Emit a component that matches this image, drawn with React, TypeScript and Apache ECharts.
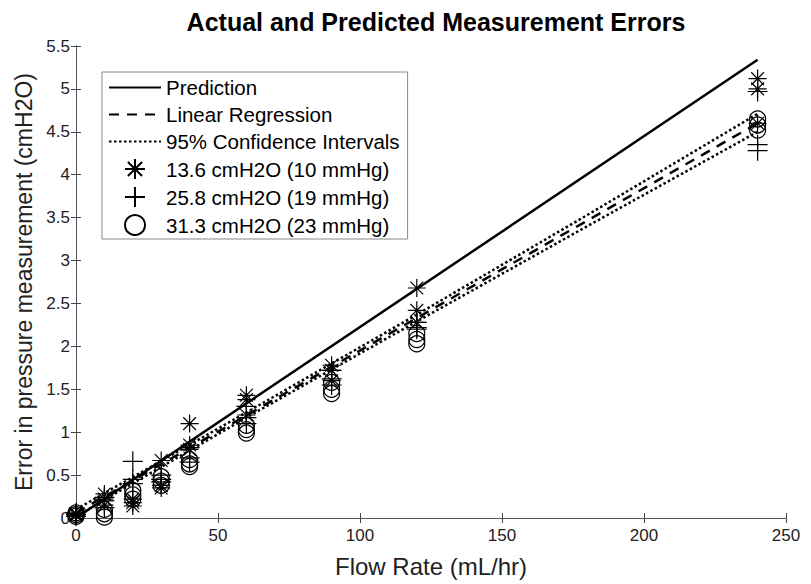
import React, { useEffect, useRef } from "react";
import * as echarts from "echarts";

// Flow rates (mL/hr)
const flow = [0, 10, 20, 30, 40, 60, 90, 120, 240];

// 13.6 cmH2O (10 mmHg) replicates – asterisks
const ast1 = [0.05, 0.28, 0.18, 0.67, 1.1, 1.43, 1.78, 2.68, 5.12];
const ast2 = [0.05, 0.22, 0.22, 0.38, 0.85, 1.38, 1.72, 2.42, 5.0];
const ast3 = [0.03, 0.15, 0.14, 0.35, 0.8, 1.2, 1.6, 2.28, 4.6];

// 25.8 cmH2O (19 mmHg) replicates – plus
const plus1 = [0.06, 0.24, 0.66, 0.5, 0.82, 1.3, 1.72, 2.28, 4.97];
const plus2 = [0.04, 0.2, 0.45, 0.45, 0.7, 1.17, 1.62, 2.22, 4.35];
const plus3 = [0.02, 0.12, 0.4, 0.42, 0.65, 1.1, 1.55, 2.2, 4.28];

// 31.3 cmH2O (23 mmHg) replicates – circles
const circ1 = [0.06, 0.1, 0.32, 0.48, 0.68, 1.08, 1.58, 2.15, 4.65];
const circ2 = [0.04, 0.05, 0.27, 0.43, 0.63, 1.03, 1.5, 2.08, 4.58];
const circ3 = [0.02, 0.01, 0.22, 0.38, 0.6, 0.99, 1.45, 2.03, 4.52];

// Lines
const predX = [0, 240];
const predY = [0, 5.34];
const regX = [0, 240];
const regY = [0.06, 4.6];
const ciX = [0, 60, 120, 180, 240];
const ciUpper = [0.1, 1.23, 2.37, 3.53, 4.71];
const ciLower = [0.02, 1.17, 2.29, 3.4, 4.5];

const xTicks = { min: 0, max: 250, interval: 50 };
const yTicks = { min: 0, max: 5.5, interval: 0.5 };

const FONT = "Liberation Sans, Arial, Helvetica, sans-serif";

const ASTERISK = "path://M0,-10L0,10M-10,0L10,0M-7.07,-7.07L7.07,7.07M-7.07,7.07L7.07,-7.07";
const PLUS = "path://M0,-10L0,10M-10,0L10,0";

function pairs(xs: number[], ys: number[]) {
  return xs.map((x, i) => [x, ys[i]]);
}
function reps(...arrs: number[][]) {
  const out: number[][] = [];
  arrs.forEach((a) => a.forEach((y, i) => out.push([flow[i], y])));
  return out;
}

const hiddenSym = { itemStyle: { color: "transparent", borderColor: "transparent", borderWidth: 0 } };

export default function App() {
  const ref = useRef<HTMLDivElement>(null);
  useEffect(() => {
    document.body.style.margin = "0";
    const chart = echarts.init(ref.current!, undefined, { renderer: "svg" });
    const axisLine = { show: true, lineStyle: { color: "#555", width: 1 } };
    const tick = { show: true, inside: true, length: 5, lineStyle: { color: "#444" } };
    chart.setOption({
      animation: false,
      backgroundColor: "#fff",
      title: {
        text: "Actual and Predicted Measurement Errors",
        left: 431,
        textAlign: "center",
        top: 4,
        textStyle: { fontFamily: FONT, fontSize: 25, fontWeight: "bold", color: "#000" },
      },
      grid: { left: 76, right: 25, top: 46, bottom: 66 },
      legend: {
        orient: "vertical",
        left: 102,
        top: 72,
        padding: [5, 8, 3, 6],
        itemGap: 6,
        itemWidth: 52,
        itemHeight: 20,
        borderColor: "#888",
        borderWidth: 1,
        backgroundColor: "#fff",
        textStyle: { fontFamily: FONT, fontSize: 20.5, lineHeight: 20, color: "#000" },
        data: [
          { name: "Prediction", ...hiddenSym },
          { name: "Linear Regression", ...hiddenSym },
          { name: "95% Confidence Intervals", ...hiddenSym },
          "13.6 cmH2O (10 mmHg)",
          "25.8 cmH2O (19 mmHg)",
          "31.3 cmH2O (23 mmHg)",
        ],
      },
      xAxis: [
        {
          type: "value",
          ...xTicks,
          name: "Flow Rate (mL/hr)",
          nameLocation: "middle",
          nameGap: 36,
          nameTextStyle: { fontFamily: FONT, fontSize: 24, color: "#222" },
          axisLine,
          axisTick: tick,
          splitLine: { show: false },
          axisLabel: { fontFamily: FONT, fontSize: 17, color: "#222", margin: 9 },
        },
        {
          type: "value",
          ...xTicks,
          position: "top",
          axisLine,
          axisTick: tick,
          splitLine: { show: false },
          axisLabel: { show: false },
        },
      ],
      yAxis: [
        {
          type: "value",
          ...yTicks,
          name: "Error in pressure measurement (cmH2O)",
          nameLocation: "middle",
          nameGap: 38,
          nameTextStyle: { fontFamily: FONT, fontSize: 23, color: "#222" },
          axisLine,
          axisTick: tick,
          splitLine: { show: false },
          axisLabel: { fontFamily: FONT, fontSize: 17, color: "#222", margin: 6 },
        },
        {
          type: "value",
          ...yTicks,
          position: "right",
          axisLine,
          axisTick: tick,
          splitLine: { show: false },
          axisLabel: { show: false },
        },
      ],
      series: [
        {
          name: "Prediction",
          type: "line",
          data: pairs(predX, predY),
          symbol: "none",
          lineStyle: { color: "#000", width: 2.5, type: "solid" },
          itemStyle: { color: "#000" },
          z: 3,
        },
        {
          name: "Linear Regression",
          type: "line",
          data: pairs(regX, regY),
          symbol: "none",
          lineStyle: { color: "#000", width: 2.5, type: [10, 8] },
          itemStyle: { color: "#000" },
          z: 3,
        },
        {
          name: "95% Confidence Intervals",
          type: "line",
          data: pairs(ciX, ciUpper),
          symbol: "none",
          lineStyle: { color: "#000", width: 2.5, type: [2.5, 2.5] },
          itemStyle: { color: "#000" },
          z: 3,
        },
        {
          name: "95% Confidence Intervals",
          type: "line",
          data: pairs(ciX, ciLower),
          symbol: "none",
          lineStyle: { color: "#000", width: 2.5, type: [2.5, 2.5] },
          itemStyle: { color: "#000" },
          z: 3,
        },
        {
          name: "13.6 cmH2O (10 mmHg)",
          type: "scatter",
          data: reps(ast1, ast2, ast3),
          symbol: ASTERISK,
          symbolSize: 18,
          itemStyle: { color: "transparent", borderColor: "#000", borderWidth: 1.2, opacity: 1 },
          z: 4,
        },
        {
          name: "25.8 cmH2O (19 mmHg)",
          type: "scatter",
          data: reps(plus1, plus2, plus3),
          symbol: PLUS,
          symbolSize: 20,
          itemStyle: { color: "transparent", borderColor: "#000", borderWidth: 1.2, opacity: 1 },
          z: 4,
        },
        {
          name: "31.3 cmH2O (23 mmHg)",
          type: "scatter",
          data: reps(circ1, circ2, circ3),
          symbol: "circle",
          symbolSize: 16,
          itemStyle: { color: "transparent", borderColor: "#000", borderWidth: 1.2, opacity: 1 },
          z: 4,
        },
      ],
    });
    return () => chart.dispose();
  }, []);
  return <div ref={ref} style={{ width: 811, height: 584 }} />;
}
